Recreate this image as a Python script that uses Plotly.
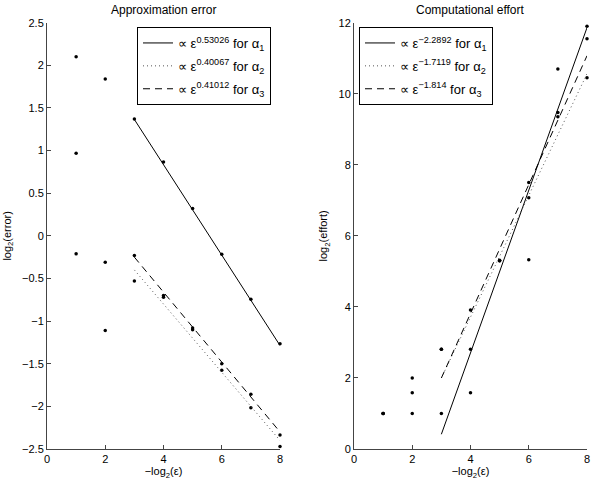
import plotly.graph_objects as go
from plotly.subplots import make_subplots

# -log2(eps) values
eps_x = [1, 2, 3, 4, 5, 6, 7, 8]

# approximation error, log2(error)
err_a1 = [2.10, 1.84, 1.37, 0.867, 0.32, -0.215, -0.743, -1.267]
err_a2 = [-0.21, -1.11, -0.53, -0.72, -1.10, -1.575, -2.017, -2.47]
err_a3 = [0.97, -0.31, -0.23, -0.70, -1.08, -1.50, -1.857, -2.337]

# computational effort, log2(effort)
eff_a1 = [1.0, 1.0, 1.0, 1.585, 5.31, 7.07, 10.70, 11.90]
eff_a2 = [1.0, 1.585, 2.81, 2.81, 5.30, 5.33, 9.35, 10.45]
eff_a3 = [1.0, 2.0, 2.81, 3.91, 5.30, 7.50, 9.47, 11.55]

# fitted lines (over -log2(eps) = 3..8), end values
fit_x = [3, 8]
err_fit1 = [1.365, -1.286]
err_fit2 = [-0.40, -2.40]
err_fit3 = [-0.25, -2.30]
eff_fit1 = [0.415, 11.86]
eff_fit2 = [2.0, 10.56]
eff_fit3 = [2.0, 11.07]

err_exp = ["0.53026", "0.40067", "0.41012"]
eff_exp = ["-2.2892", "-1.7119", "-1.814"]

FONT = "Liberation Sans, Arial, sans-serif"

fig = make_subplots(rows=1, cols=2)

dashes = ["solid", "1px,3px", "7px,5px"]
line_cols = ["black", "#555", "black"]

for pts in [err_a1, err_a2, err_a3]:
    fig.add_trace(go.Scatter(x=eps_x, y=pts, mode="markers", showlegend=False, cliponaxis=False,
                             marker=dict(color="black", size=3.5)), row=1, col=1)
for pts in [eff_a1, eff_a2, eff_a3]:
    fig.add_trace(go.Scatter(x=eps_x, y=pts, mode="markers", showlegend=False, cliponaxis=False,
                             marker=dict(color="black", size=3.5)), row=1, col=2)

for i, (fy, ex) in enumerate(zip([err_fit1, err_fit2, err_fit3], err_exp)):
    fig.add_trace(go.Scatter(
        x=fit_x, y=fy, mode="lines", legend="legend", cliponaxis=False,
        legendgroup="err%d" % i,
        name="\u221d \u03b5<sup>%s</sup> for \u03b1<sub>%d</sub>" % (ex, i + 1),
        line=dict(color=line_cols[i], width=1, dash=dashes[i])), row=1, col=1)

for i, (fy, ex) in enumerate(zip([eff_fit1, eff_fit2, eff_fit3], eff_exp)):
    fig.add_trace(go.Scatter(
        x=fit_x, y=fy, mode="lines", legend="legend2", cliponaxis=False,
        legendgroup="eff%d" % i,
        name="\u221d \u03b5<sup>%s</sup> for \u03b1<sub>%d</sub>" % (ex.replace("-", "\u2212"), i + 1),
        line=dict(color=line_cols[i], width=1, dash=dashes[i])), row=1, col=2)

axis_common = dict(showline=True, linecolor="#444", linewidth=1, ticks="inside",
                   ticklen=4, tickcolor="#444", showgrid=False, zeroline=False,
                   mirror=False, automargin=False, tickfont=dict(size=11, color="black"))

fig.update_xaxes(axis_common)
fig.update_yaxes(axis_common)

fig.update_xaxes(range=[0, 8], dtick=2, domain=[47 / 592, 280 / 592],
                 title=dict(text="\u2212log<sub>2</sub>(\u03b5)", font=dict(size=11), standoff=2),
                 row=1, col=1)
fig.update_xaxes(range=[0, 8], dtick=2, domain=[354 / 592, 587 / 592],
                 title=dict(text="\u2212log<sub>2</sub>(\u03b5)", font=dict(size=11), standoff=2),
                 row=1, col=2)
fig.update_yaxes(range=[-2.5, 2.5], dtick=0.5, domain=[34 / 483, 460.3 / 483],
                 title=dict(text="log<sub>2</sub>(error)", font=dict(size=11), standoff=8),
                 row=1, col=1)
fig.update_yaxes(range=[0, 12], dtick=2, domain=[34 / 483, 460.3 / 483],
                 title=dict(text="log<sub>2</sub>(effort)", font=dict(size=11), standoff=8),
                 row=1, col=2)

legend_style = dict(bgcolor="white", bordercolor="black", borderwidth=1,
                    font=dict(size=13, color="black"), xanchor="left", yanchor="top",
                    itemwidth=30, tracegroupgap=3, traceorder="grouped")

fig.update_layout(
    width=592, height=483,
    margin=dict(l=0, r=0, t=0, b=0),
    paper_bgcolor="white", plot_bgcolor="white",
    font=dict(family=FONT, color="black", size=11),
    legend=dict(x=137 / 592, y=(483 - 27) / 483, **legend_style),
    legend2=dict(x=359 / 592, y=(483 - 27) / 483, **legend_style),
    annotations=[
        dict(text="Approximation error", x=163.5 / 592, y=(483 - 10) / 483,
             xref="paper", yref="paper", xanchor="center", yanchor="middle",
             showarrow=False, font=dict(size=12)),
        dict(text="Computational effort", x=470.5 / 592, y=(483 - 10) / 483,
             xref="paper", yref="paper", xanchor="center", yanchor="middle",
             showarrow=False, font=dict(size=12)),
    ],
)

fig.write_html("out.html", config={"displayModeBar": False},
               post_script="document.body.style.margin='0';")
